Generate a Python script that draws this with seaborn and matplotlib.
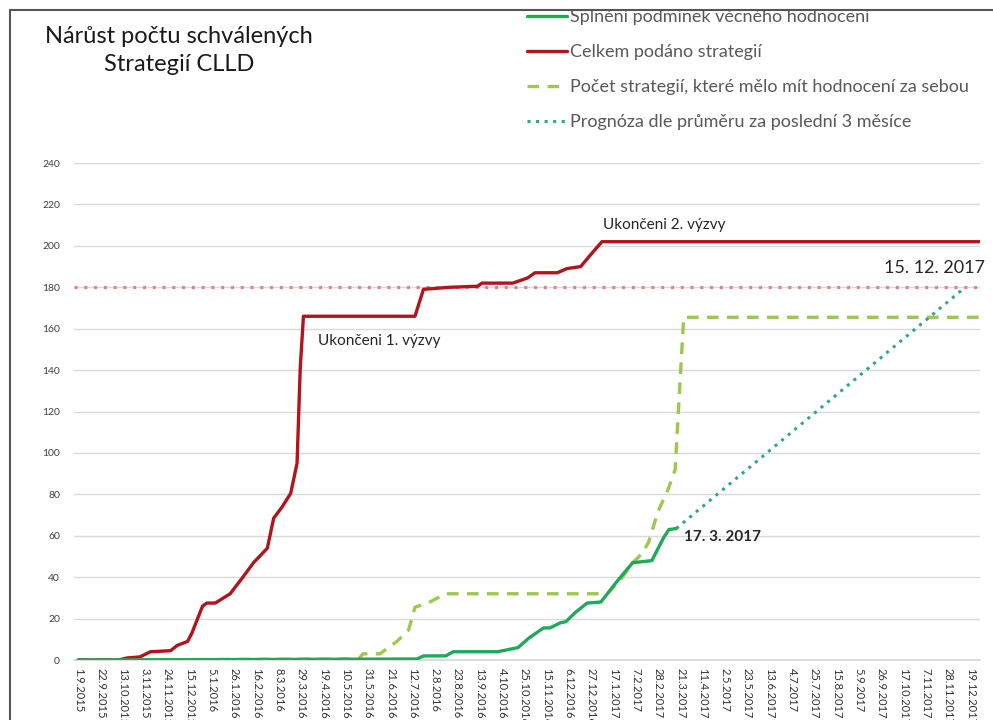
import matplotlib
matplotlib.use("Agg")
import matplotlib.pyplot as plt
import numpy as np
import pandas as pd
import seaborn as sns

# dny od 1. 9. 2015
START = pd.Timestamp("2015-09-01")

red_day = [0, 38, 46, 58, 68, 87, 93, 103, 107, 117, 121, 129, 143, 155, 165, 178,
           184, 192, 200, 206, 209, 212, 317, 325, 350, 376, 380, 409, 423, 430,
           451, 460, 473, 482, 493, 849]
red_val = [0, 0, 1, 1.5, 4, 4.5, 7, 9, 13, 26, 27.5, 27.5, 32, 40, 47, 54,
           68.5, 74, 80.5, 95, 141, 166, 166, 179, 180, 180.5, 182, 182, 184.5, 187,
           187, 189, 190, 195.5, 202, 202]

green_day = [0, 319, 325, 346, 353, 395, 414, 424, 438, 444, 454, 459, 468, 479,
             492, 508, 522, 540, 551, 556, 563]
green_val = [0, 0.5, 2, 2, 4, 4, 6, 10.5, 15.5, 15.5, 18, 18.5, 23, 27.5,
             28, 38.5, 47, 48, 59, 63, 63.5]

plan_day = [0, 264, 268, 284, 300, 311, 317, 329, 346, 498, 510, 522, 531, 537,
            546, 555, 562, 566, 570, 849]
plan_val = [0, 0.5, 3, 3, 9, 14.5, 25.5, 27.5, 32, 32, 38.5, 47, 51.5, 57,
            72, 82, 92, 130, 165.5, 165.5]

prog_day = [563, 835]
prog_val = [63.5, 180]

limit_val = 180
tick_days = list(range(0, 841, 21))

labels = ["Splnění podmínek věcného hodnocení", "Celkem podáno strategií",
          "Počet strategií, které mělo mít hodnocení za sebou",
          "Prognóza dle průměru za poslední 3 měsíce"]


def to_df(days, vals):
    return pd.DataFrame({"date": START + pd.to_timedelta(days, unit="D"), "val": vals})


sns.set_theme(style="white")
plt.rcParams["font.family"] = ["Lato", "DejaVu Sans"]

fig = plt.figure(figsize=(9.93, 7.2), dpi=100)
ax = fig.add_axes([0.0745, 0.0833, 0.9125, 0.6903])

c_green = "#1FAA59"
c_red = "#B3131B"
c_plan = "#9CC94A"
c_prog = "#2BA88A"

ax.axhline(limit_val, color="#EE7C84", lw=2.2, ls=(0, (1, 2.2)), zorder=1)

sns.lineplot(data=to_df(green_day, green_val), x="date", y="val", ax=ax,
             color=c_green, lw=2.4, label=labels[0], zorder=4)
sns.lineplot(data=to_df(red_day, red_val), x="date", y="val", ax=ax,
             color=c_red, lw=2.4, label=labels[1], zorder=3)
sns.lineplot(data=to_df(plan_day, plan_val), x="date", y="val", ax=ax,
             color=c_plan, lw=2.4, ls=(0, (3.5, 2.5)), label=labels[2], zorder=2)
sns.lineplot(data=to_df(prog_day, prog_val), x="date", y="val", ax=ax,
             color=c_prog, lw=2.2, ls=(0, (1, 1.8)), label=labels[3], zorder=2)

ax.set_xlim(START - pd.Timedelta(days=4), START + pd.Timedelta(days=849))
ax.set_ylim(0, 240)
ax.set_yticks(range(0, 241, 20))
ax.yaxis.grid(True, color="#D9D9D9", lw=1)
ax.tick_params(axis="y", labelsize=7.5, colors="#404040", pad=10, length=0)

tick_dates = [START + pd.Timedelta(days=d) for d in tick_days]
ax.set_xticks(tick_dates)
ax.set_xticklabels([f"{d.day}.{d.month}.{d.year}" for d in tick_dates],
                   rotation=-90, fontsize=8, color="#303030")
ax.tick_params(axis="x", length=0, pad=6)
ax.set_xlabel("")
ax.set_ylabel("")
for s in ["top", "right", "left"]:
    ax.spines[s].set_visible(False)
ax.spines["bottom"].set_color("#D9D9D9")

ax.legend(loc="upper left", bbox_to_anchor=(0.531, 0.987), bbox_transform=fig.transFigure,
          frameon=False, fontsize=13, labelcolor="#595959", handlelength=2.2,
          labelspacing=1.05, handletextpad=0.15, borderaxespad=0.0, borderpad=0.0)

fig.text(0.18, 0.93, "Nárůst počtu schválených\nStrategií CLLD", ha="center", va="center",
         fontsize=17, color="#1a1a1a", linespacing=1.4)

ax.text(START + pd.Timedelta(days=226), 154, "Ukončeni 1. výzvy", fontsize=11, color="#262626",
        va="center")
ax.text(START + pd.Timedelta(days=494), 210, "Ukončeni 2. výzvy", fontsize=11, color="#262626",
        va="center")
ax.text(START + pd.Timedelta(days=854), 189.5, "15. 12. 2017", fontsize=13, color="#262626",
        va="center", ha="right", clip_on=False)
ax.text(START + pd.Timedelta(days=570), 59.5, "17. 3. 2017", fontsize=11, color="#262626",
        va="center", fontweight="bold")

# ramecek snimku
fig.add_artist(plt.Line2D([10 / 993, 10 / 993], [0, 1 - 10 / 720], transform=fig.transFigure,
                          color="#555555", lw=1.5))
fig.add_artist(plt.Line2D([10 / 993, 1], [1 - 10 / 720, 1 - 10 / 720], transform=fig.transFigure,
                          color="#555555", lw=1.5))

fig.savefig("out.png", dpi=100)
